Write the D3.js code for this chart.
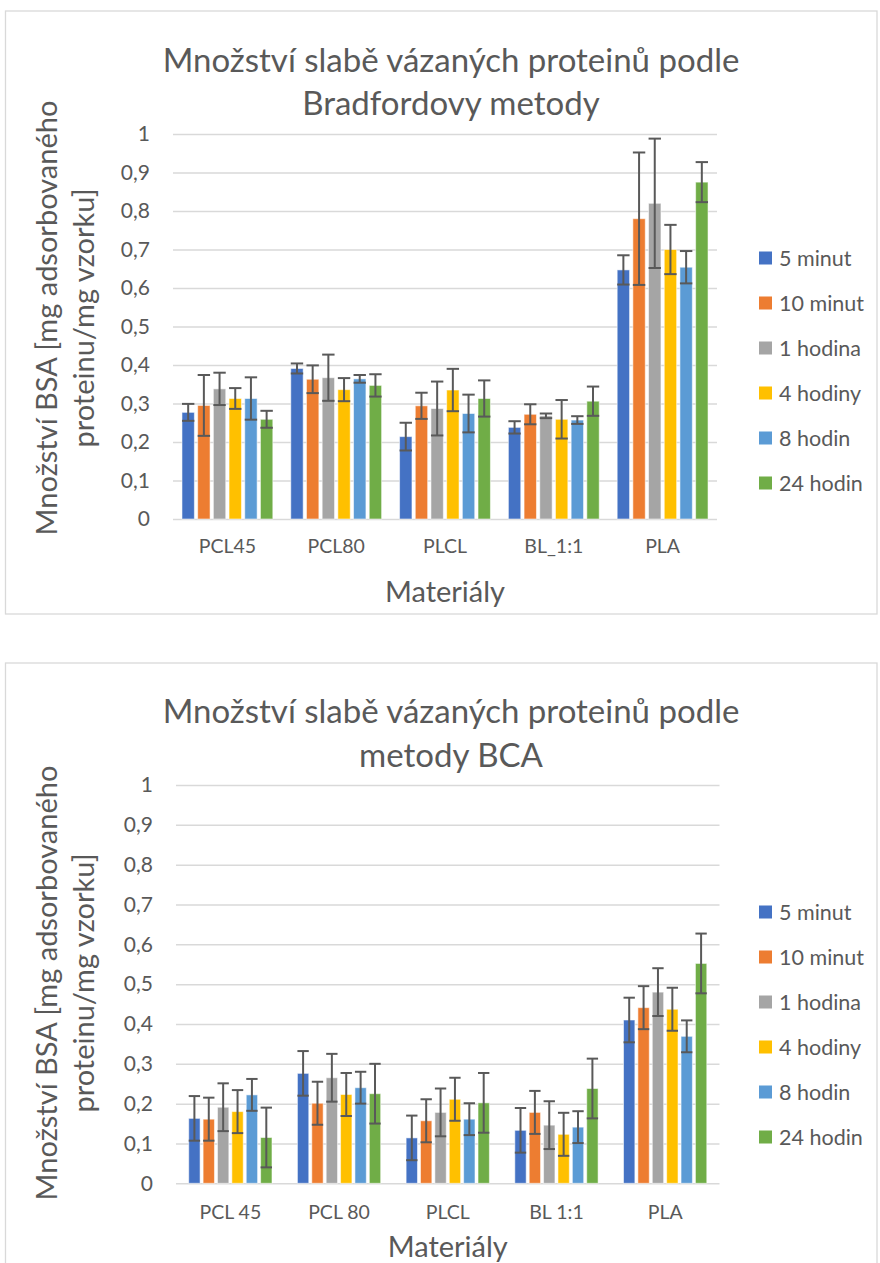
<!DOCTYPE html>
<html><head><meta charset="utf-8">
<script src="https://cdn.jsdelivr.net/npm/d3@7/dist/d3.min.js"></script>
<style>body{margin:0;background:#fff}svg{display:block}</style>
</head><body>
<svg id="c" width="880" height="1263"></svg>
<script>
// ---------- DATA ----------
const seriesNames = ["5 minut","10 minut","1 hodina","4 hodiny","8 hodin","24 hodin"];
const seriesColors = ["#4472C4","#ED7D31","#A5A5A5","#FFC000","#5B9BD5","#70AD47"];
const yTickValues = [0,0.1,0.2,0.3,0.4,0.5,0.6,0.7,0.8,0.9,1];
const yTickLabels = ["0","0,1","0,2","0,3","0,4","0,5","0,6","0,7","0,8","0,9","1"];

// Chart 1 – Bradford
const bradfordTitle = ["Množství slabě vázaných proteinů podle","Bradfordovy metody"];
const bradfordCategories = ["PCL45","PCL80","PLCL","BL_1:1","PLA"];
const bradford5min   = [0.277,0.391,0.214,0.238,0.647];
const bradford10min  = [0.295,0.363,0.294,0.272,0.780];
const bradford1h     = [0.338,0.367,0.287,0.268,0.820];
const bradford4h     = [0.313,0.336,0.335,0.259,0.700];
const bradford8h     = [0.313,0.364,0.274,0.257,0.654];
const bradford24h    = [0.259,0.347,0.313,0.306,0.875];
const bradfordErr5min  = [0.022,0.013,0.036,0.016,0.038];
const bradfordErr10min = [0.079,0.036,0.034,0.026,0.172];
const bradfordErr1h    = [0.042,0.060,0.070,0.006,0.168];
const bradfordErr4h    = [0.027,0.030,0.055,0.050,0.064];
const bradfordErr8h    = [0.055,0.010,0.049,0.010,0.042];
const bradfordErr24h   = [0.022,0.029,0.047,0.038,0.052];

// Chart 2 – BCA
const bcaTitle = ["Množství slabě vázaných proteinů podle","metody BCA"];
const bcaCategories = ["PCL 45","PCL 80","PLCL","BL 1:1","PLA"];
const bca5min   = [0.163,0.276,0.114,0.133,0.410];
const bca10min  = [0.161,0.201,0.157,0.178,0.441];
const bca1h     = [0.191,0.265,0.178,0.146,0.480];
const bca4h     = [0.180,0.223,0.211,0.123,0.437];
const bca8h     = [0.222,0.240,0.161,0.141,0.369];
const bca24h    = [0.115,0.225,0.202,0.238,0.552];
const bcaErr5min  = [0.056,0.056,0.056,0.056,0.056];
const bcaErr10min = [0.054,0.054,0.054,0.054,0.054];
const bcaErr1h    = [0.060,0.060,0.060,0.060,0.060];
const bcaErr4h    = [0.054,0.054,0.054,0.054,0.054];
const bcaErr8h    = [0.040,0.040,0.040,0.040,0.040];
const bcaErr24h   = [0.075,0.075,0.075,0.075,0.075];

const yAxisTitle = ["Množství BSA [mg adsorbovaného","proteinu/mg vzorku]"];
const xAxisTitle = "Materiály";

// ---------- DRAW ----------
const FONT = "Lato, 'Open Sans', 'Liberation Sans', sans-serif";
const TXT = "#595959";
const GRID = "#D9D9D9";
const svg = d3.select("#c");

function drawChart(cfg) {
  const g = svg.append("g");
  g.append("rect").attr("x", cfg.frame.x).attr("y", cfg.frame.y)
    .attr("width", cfg.frame.w).attr("height", cfg.frame.h)
    .attr("fill", "#fff").attr("stroke", GRID).attr("stroke-width", 1.3);

  const y = d3.scaleLinear().domain([0, 1]).range([cfg.plot.bottom, cfg.plot.top]);
  const x0 = d3.scaleBand().domain(cfg.categories).range([cfg.plot.left, cfg.plot.right]).padding(0);
  const bw = x0.bandwidth();
  const half = bw * cfg.groupFrac / 2;
  const x1 = d3.scaleBand().domain(seriesNames).range([bw / 2 - half, bw / 2 + half])
    .paddingInner(0.21).paddingOuter(0);
  const W = cfg.plot.right - cfg.plot.left;

  const yAxis = d3.axisLeft(y).tickValues(yTickValues)
    .tickFormat((d, i) => yTickLabels[i]).tickSize(-W).tickPadding(23);
  const ya = g.append("g").attr("transform", `translate(${cfg.plot.left},0)`).call(yAxis);
  ya.select(".domain").remove();
  ya.selectAll(".tick line").attr("stroke", GRID).attr("stroke-width", 1.5);
  ya.selectAll(".tick text").attr("fill", TXT).style("font-family", FONT).style("font-size", "21px");

  const groups = g.append("g").selectAll("g").data(cfg.categories).join("g")
    .attr("transform", d => `translate(${x0(d)},0)`);
  groups.selectAll("rect").data((c, ci) => seriesNames.map((s, si) => ({s, si, v: cfg.values[si][ci]})))
    .join("rect")
    .attr("x", d => x1(d.s)).attr("width", x1.bandwidth())
    .attr("y", d => y(d.v)).attr("height", d => y(0) - y(d.v))
    .attr("fill", d => seriesColors[d.si])
    .attr("stroke", "#fff").attr("stroke-opacity", 0.55).attr("stroke-width", 1);

  const eb = groups.selectAll("g.err").data((c, ci) => seriesNames.map((s, si) => ({s, v: cfg.values[si][ci], e: cfg.errors[si][ci]})))
    .join("g").attr("class", "err")
    .attr("stroke", "#595959").attr("stroke-width", 2);
  const cx = d => x1(d.s) + x1.bandwidth() / 2;
  const cap = x1.bandwidth() / 2;
  eb.append("line").attr("x1", cx).attr("x2", cx).attr("y1", d => y(d.v + d.e)).attr("y2", d => y(d.v - d.e));
  eb.append("line").attr("x1", d => cx(d) - cap).attr("x2", d => cx(d) + cap).attr("y1", d => y(d.v + d.e)).attr("y2", d => y(d.v + d.e));
  eb.append("line").attr("x1", d => cx(d) - cap).attr("x2", d => cx(d) + cap).attr("y1", d => y(d.v - d.e)).attr("y2", d => y(d.v - d.e));

  const xAxis = d3.axisBottom(x0).tickSize(0).tickPadding(cfg.catPad);
  const xa = g.append("g").attr("transform", `translate(0,${cfg.plot.bottom})`).call(xAxis);
  xa.select(".domain").remove();
  xa.selectAll(".tick text").attr("fill", TXT).style("font-family", FONT).style("font-size", "19.5px");

  cfg.title.forEach((t, i) => {
    g.append("text").attr("x", cfg.titleX).attr("y", cfg.titleY[i]).attr("dy", "0.35em").attr("text-anchor", "middle")
      .attr("fill", TXT).style("font-family", FONT).style("font-weight", 400).style("font-size", "33px").text(t);
  });

  yAxisTitle.forEach((t, i) => {
    g.append("text").attr("transform", `translate(${cfg.yTitleX[i]},${cfg.yTitleY}) rotate(-90)`)
      .attr("dy", "0.35em").attr("text-anchor", "middle").attr("fill", TXT)
      .style("font-family", FONT).style("font-size", "29px").text(t);
  });
  g.append("text").attr("x", (cfg.plot.left + cfg.plot.right) / 2).attr("y", cfg.xTitleY).attr("dy", "0.35em")
    .attr("text-anchor", "middle").attr("fill", TXT).style("font-family", FONT).style("font-size", "29px").text(xAxisTitle);

  const lg = g.append("g").selectAll("g").data(seriesNames).join("g")
    .attr("transform", (d, i) => `translate(${cfg.legendX},${cfg.legendY + i * 45})`);
  lg.append("rect").attr("x", 0).attr("y", -6.5).attr("width", 13).attr("height", 13).attr("fill", (d, i) => seriesColors[i]);
  lg.append("text").attr("x", 20).attr("dy", "0.35em").attr("fill", TXT)
    .style("font-family", FONT).style("font-size", "21.5px").text(d => d);
}

drawChart({
  frame: {x: 5.5, y: 11, w: 871.5, h: 603},
  plot: {left: 173, right: 717, top: 134, bottom: 519},
  groupFrac: 0.835,
  categories: bradfordCategories,
  values: [bradford5min, bradford10min, bradford1h, bradford4h, bradford8h, bradford24h],
  errors: [bradfordErr5min, bradfordErr10min, bradfordErr1h, bradfordErr4h, bradfordErr8h, bradfordErr24h],
  title: bradfordTitle, titleX: 451, titleY: [60, 103],
  yTitleX: [47, 84], yTitleY: 318,
  xTitleY: 592, catPad: 20,
  legendX: 759, legendY: 258
});

drawChart({
  frame: {x: 5.5, y: 663, w: 871.5, h: 700},
  plot: {left: 176, right: 719.5, top: 785, bottom: 1183.3},
  groupFrac: 0.766,
  categories: bcaCategories,
  values: [bca5min, bca10min, bca1h, bca4h, bca8h, bca24h],
  errors: [bcaErr5min, bcaErr10min, bcaErr1h, bcaErr4h, bcaErr8h, bcaErr24h],
  title: bcaTitle, titleX: 451, titleY: [711, 755],
  yTitleX: [47, 84], yTitleY: 983,
  xTitleY: 1247, catPad: 22,
  legendX: 759, legendY: 912
});
</script>
</body></html>
